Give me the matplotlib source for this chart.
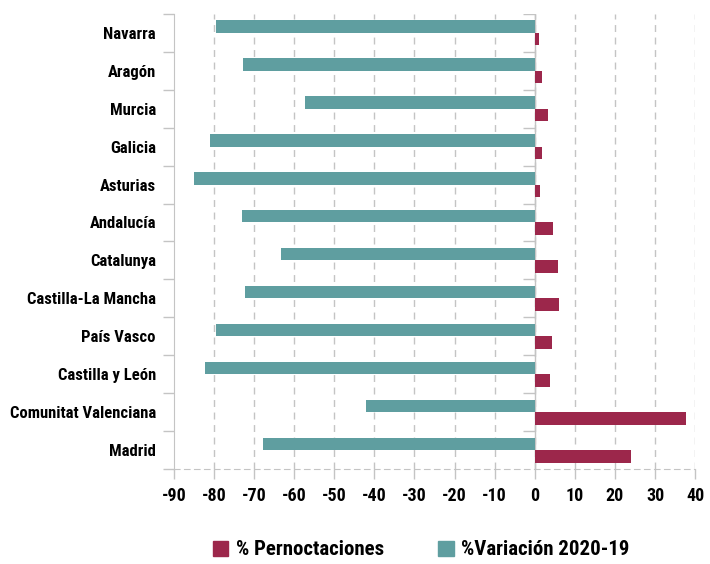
import matplotlib.pyplot as plt
import numpy as np
from matplotlib.patches import Patch

# regions, top to bottom as in the chart
regiones = ["Navarra", "Aragón", "Murcia", "Galicia", "Asturias", "Andalucía",
            "Catalunya", "Castilla-La Mancha", "País Vasco", "Castilla y León",
            "Comunitat Valenciana", "Madrid"]
pernoctaciones = [1.1, 1.9, 3.4, 1.7, 1.4, 4.6, 5.9, 6.1, 4.4, 3.9, 37.8, 23.9]
variacion = [-79.4, -72.7, -57.2, -81.1, -84.9, -73.1, -63.2, -72.4, -79.4, -82.2, -42.0, -67.7]
xticks = list(range(-90, 41, 10))

c_pern = "#9c274b"
c_var = "#5f9ea0"
grid_c = "#c4c4c4"

plt.rcParams["font.family"] = ["Roboto Condensed", "DejaVu Sans"]
plt.rcParams["font.stretch"] = "condensed"
plt.rcParams["font.weight"] = "bold"

fig = plt.figure(figsize=(7.10, 5.64), dpi=100)
ax = fig.add_axes([0.245, 0.168, 0.734, 0.8077])

y = np.arange(len(regiones))
h = 1 / 3
ax.barh(y - h / 2, variacion, height=h, color=c_var, zorder=3)
ax.barh(y + h / 2, pernoctaciones, height=h, color=c_pern, zorder=3)

ax.set_xlim(-90, 40)
ax.set_ylim(len(regiones) - 0.5, -0.5)

# dashed vertical grid
for xv in xticks[1:]:
    ax.axvline(xv, color=grid_c, lw=1, ls=(0, (5, 4)), zorder=1)

# category axis at zero with boundary ticks
bounds = np.arange(len(regiones) + 1) - 0.5
ax.axvline(0, color=grid_c, lw=1, zorder=2)
ax.hlines(bounds[:-1], -3, 0, color=grid_c, lw=1, zorder=2)

ax.set_yticks(bounds)
ax.set_yticklabels([])
ax.set_yticks(y, minor=True)
ax.set_yticklabels(regiones, minor=True, fontsize=12, fontweight="bold")
ax.tick_params(axis="y", which="major", length=8, color=grid_c, width=1)
ax.tick_params(axis="y", which="minor", length=0, pad=13)

ax.set_xticks(xticks)
ax.set_xticklabels([str(v) for v in xticks], fontsize=13, fontweight="bold")
ax.tick_params(axis="x", length=7, color=grid_c, width=1, pad=6)

for s in ["top", "right"]:
    ax.spines[s].set_visible(False)
ax.spines["left"].set_color(grid_c)
ax.spines["bottom"].set_color(grid_c)
ax.spines["bottom"].set_linestyle((0, (5, 4)))

handles = [Patch(color=c_pern, label="% Pernoctaciones"),
           Patch(color=c_var, label="%Variación 2020-19")]
fig.legend(handles=handles, loc="center", bbox_to_anchor=(0.593, 0.025), ncol=2,
           frameon=False, fontsize=15, handlelength=0.75, handleheight=0.75,
           handletextpad=0.35, columnspacing=2.6)

fig.savefig("out.png", dpi=100)
